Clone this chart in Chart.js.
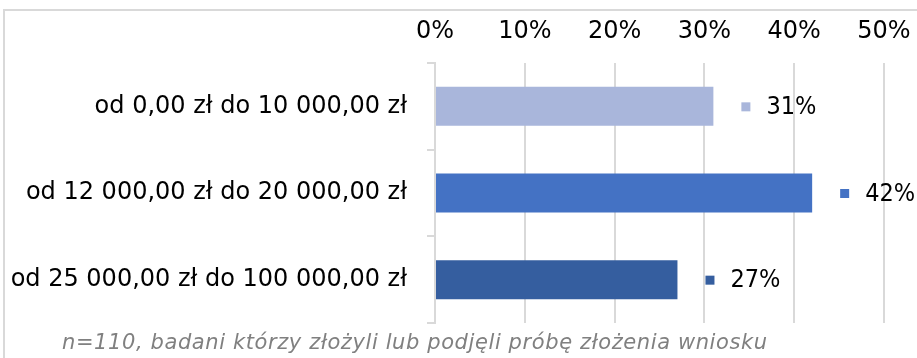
<!DOCTYPE html>
<html>
<head>
<meta charset="utf-8">
<script src="https://cdn.jsdelivr.net/npm/chart.js@4/dist/chart.umd.min.js"></script>
<style>
    html, body { margin: 0; padding: 0; background: #fff; }
    #wrap { position: relative; width: 917px; height: 358px; overflow: hidden; }
    #frame {
        position: absolute; left: 3px; top: 9px; width: 1000px; height: 400px;
        border-top: 2px solid #d9d9d9; border-left: 2px solid #d9d9d9;
    }
    #note {
        position: absolute; left: 62px; top: 330px; letter-spacing: 0.6px;
        font: oblique 21px "DejaVu Sans", sans-serif; color: #808080; white-space: nowrap;
    }
</style>
</head>
<body>
<div id="wrap">
    <div id="frame"></div>
    <canvas id="kwotyChart" width="917" height="358"></canvas>
    <div id="note">n=110, badani którzy złożyli lub podjęli próbę złożenia wniosku</div>
</div>
<script>
const categories = ["od 0,00 zł do 10 000,00 zł", "od 12 000,00 zł do 20 000,00 zł", "od 25 000,00 zł do 100 000,00 zł"];
const shares = [31, 42, 27];
const barColors = ["#a9b6db", "#4472c4", "#355e9f"];
const xTicks = [0, 10, 20, 30, 40, 50];

const FONT = 'DejaVu Sans';

// square marker + percentage next to the end of each bar
const valueLabels = {
    id: 'valueLabels',
    afterDatasetsDraw(chart) {
        const ctx = chart.ctx;
        const meta = chart.getDatasetMeta(0);
        ctx.save();
        ctx.font = '25px "DejaVu Sans Condensed", "DejaVu Sans", sans-serif';
        ctx.textBaseline = 'middle';
        ctx.textAlign = 'left';
        meta.data.forEach((bar, i) => {
            ctx.fillStyle = barColors[i];
            ctx.fillRect(bar.x + 28, bar.y - 4, 9, 9);
            ctx.fillStyle = '#000';
            ctx.fillText(shares[i] + '%', bar.x + 53, bar.y + 1);
        });
        ctx.restore();
    }
};

new Chart(document.querySelector('#kwotyChart'), {
    type: 'bar',
    data: {
        labels: categories,
        datasets: [
            {
                data: shares,
                backgroundColor: barColors,
                borderWidth: 0,
                categoryPercentage: 1,
                barPercentage: 0.45,
            },
        ],
    },
    options: {
        indexAxis: 'y',
        responsive: false,
        animation: false,
        layout: { padding: { top: 0, right: 33, bottom: 35, left: 0 } },
        plugins: {
            legend: { display: false },
            tooltip: { enabled: false },
        },
        scales: {
            x: {
                position: 'top',
                min: 0,
                max: 50,
                afterBuildTicks: (scale) => { scale.ticks = xTicks.map(v => ({ value: v })); },
                afterFit: (scale) => {
                    scale.height = 63;
                    scale.paddingLeft = 0;
                    scale.paddingRight = 0;
                },
                border: { display: false },
                grid: { color: '#d9d9d9', lineWidth: 2, drawTicks: false },
                ticks: {
                    padding: 17,
                    color: '#000',
                    font: { family: FONT, size: 24 },
                    callback: (v) => v + '%',
                },
            },
            y: {
                afterFit: (scale) => { scale.width = 435; },
                border: { display: true, color: '#d9d9d9', width: 2 },
                grid: { color: '#d9d9d9', lineWidth: 2, drawOnChartArea: false, tickLength: 8 },
                ticks: {
                    padding: 20,
                    color: '#000',
                    font: { family: FONT, size: 24 },
                },
            },
        },
    },
    plugins: [valueLabels],
});
</script>
</body>
</html>
